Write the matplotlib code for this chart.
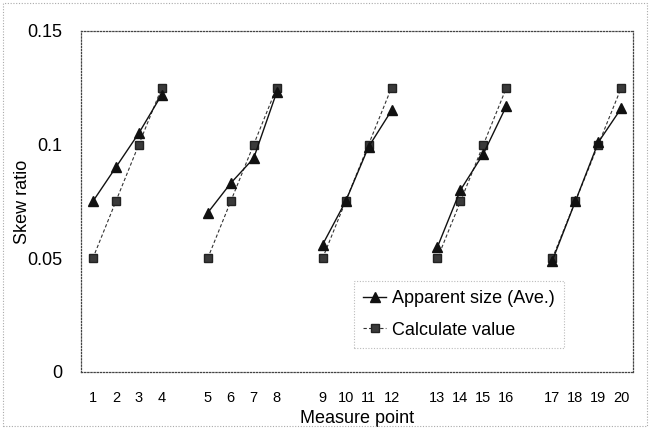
import numpy as np
import matplotlib.pyplot as plt
from matplotlib.patches import Rectangle

plt.rcParams['font.family'] = ['Liberation Sans', 'DejaVu Sans']

# measure points, in groups of four with an empty slot between groups
points = [1, 2, 3, 4, None, 5, 6, 7, 8, None, 9, 10, 11, 12, None,
          13, 14, 15, 16, None, 17, 18, 19, 20]
apparent = [0.075, 0.090, 0.105, 0.122,
            0.070, 0.083, 0.094, 0.123,
            0.056, 0.075, 0.099, 0.115,
            0.055, 0.080, 0.096, 0.117,
            0.049, 0.075, 0.101, 0.116]
calculated = [0.05, 0.075, 0.10, 0.125] * 5

labels = ['' if p is None else str(p) for p in points]
slots = [i for i, p in enumerate(points) if p is not None]

fig = plt.figure(figsize=(6.51, 4.29), dpi=100)
ax = fig.add_axes([0.125, 0.133, 0.847, 0.795])

# outer chart frame
fig.patches.append(Rectangle((0.004, 0.006), 0.99, 0.988, transform=fig.transFigure,
                             fill=False, ec='#aaaaaa', lw=0.8, ls=(0, (1, 1.5))))

first = True
for g in range(5):
    xs = slots[g * 4:(g + 1) * 4]
    ya = apparent[g * 4:(g + 1) * 4]
    yc = calculated[g * 4:(g + 1) * 4]
    ax.plot(xs, yc, ls=(0, (3, 2)), lw=0.8, color='#333333', marker='s', ms=6,
            mfc='#3a3a3a', mec='#222222', label='Calculate value' if first else None, zorder=2)
    ax.plot(xs, ya, ls='-', lw=1.0, color='#111111', marker='^', ms=7,
            mfc='#111111', mec='#111111', label='Apparent size (Ave.)' if first else None, zorder=3)
    first = False

ax.set_xlim(-0.5, len(points) - 0.5)
ax.set_ylim(0, 0.15)
ax.set_yticks([0, 0.05, 0.1, 0.15])
ax.set_yticklabels(['0', '0.05', '0.1', '0.15'], fontsize=13)
ax.set_xticks(range(len(points)))
ax.set_xticklabels(labels, fontsize=10.5)
ax.tick_params(axis='x', length=0, pad=13.5)
ax.tick_params(axis='y', length=0, pad=14)

for s in ax.spines.values():
    s.set_linestyle((0, (1, 1.5)))
    s.set_linewidth(0.9)
    s.set_color('#444444')

ax.set_xlabel('Measure point', fontsize=13, labelpad=4)
ax.set_ylabel('Skew ratio', fontsize=13, labelpad=-3)

h, l = ax.get_legend_handles_labels()
leg = ax.legend(h[::-1], l[::-1], loc='upper left', bbox_to_anchor=(0.478, 0.293),
                fontsize=13, frameon=True, fancybox=False, handlelength=1.3,
                handletextpad=0.3, borderpad=0.5, labelspacing=0.8)
leg.get_frame().set_edgecolor('#aaaaaa')
leg.get_frame().set_linestyle((0, (1, 1.5)))
leg.get_frame().set_linewidth(0.8)

fig.savefig('out.png', dpi=100)
